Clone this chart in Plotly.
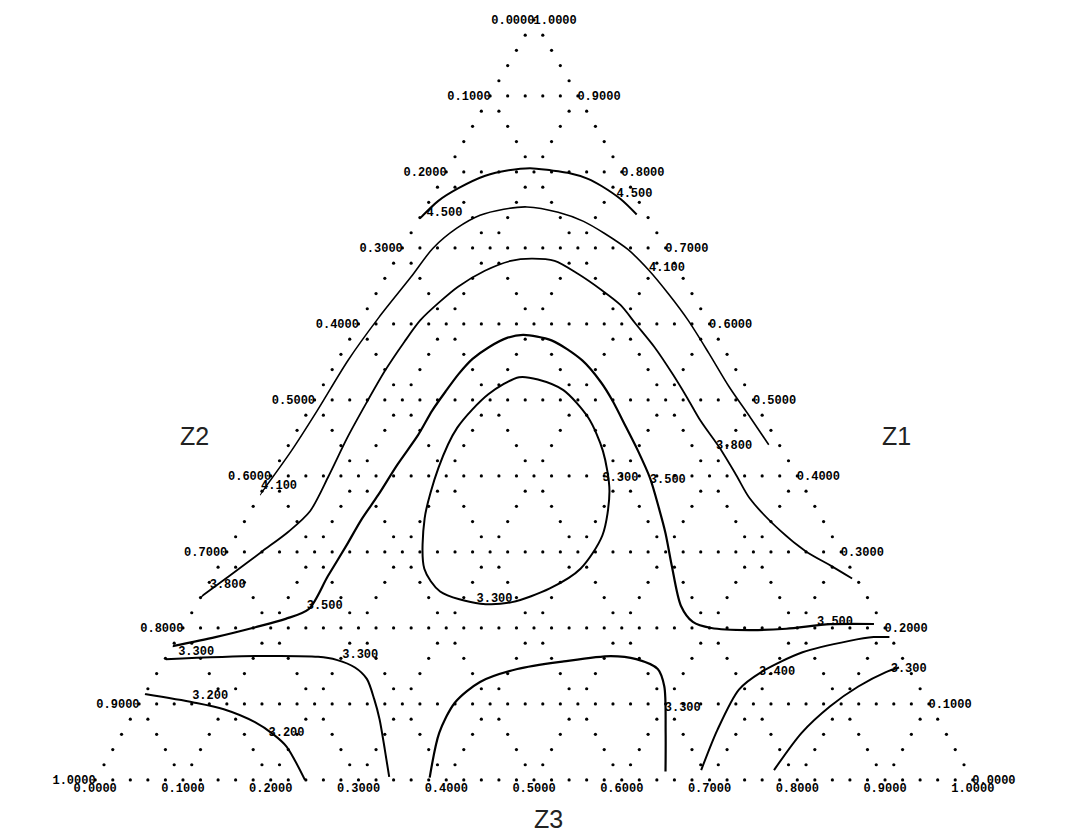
import plotly.graph_objects as go

# ---- contour 4.500 ----
c4500_z1 = [0.740, 0.762, 0.779, 0.795, 0.803, 0.805, 0.803, 0.799, 0.791, 0.782, 0.764, 0.744]
c4500_z2 = [0.259, 0.228, 0.196, 0.158, 0.128, 0.102, 0.080, 0.062, 0.043, 0.032, 0.019, 0.011]
c4500_z3 = [0.001, 0.010, 0.025, 0.047, 0.070, 0.093, 0.118, 0.139, 0.166, 0.187, 0.217, 0.245]

# ---- contour 4.100 ----
c4100_z1 = [0.375, 0.433, 0.486, 0.552, 0.609, 0.662, 0.699, 0.726, 0.743, 0.751, 0.754, 0.747,
            0.735, 0.719, 0.698, 0.672, 0.640, 0.605, 0.562, 0.517, 0.477, 0.441]
c4100_z2 = [0.625, 0.560, 0.504, 0.436, 0.372, 0.309, 0.265, 0.225, 0.190, 0.159, 0.131, 0.099,
            0.076, 0.060, 0.044, 0.034, 0.027, 0.022, 0.020, 0.019, 0.015, 0.012]
c4100_z3 = [0.000, 0.007, 0.010, 0.012, 0.019, 0.029, 0.035, 0.049, 0.067, 0.090, 0.115, 0.154,
            0.189, 0.221, 0.258, 0.295, 0.334, 0.373, 0.418, 0.464, 0.508, 0.547]

# ---- contour 3.800 ----
c3800_z1 = [0.241, 0.269, 0.301, 0.327, 0.354, 0.400, 0.450, 0.497, 0.539, 0.576, 0.605, 0.629,
            0.649, 0.670, 0.683, 0.686, 0.683, 0.666, 0.645, 0.625, 0.600, 0.570, 0.534, 0.503,
            0.473, 0.437, 0.401, 0.371, 0.327, 0.301, 0.282, 0.265]
c3800_z2 = [0.759, 0.712, 0.659, 0.616, 0.579, 0.534, 0.487, 0.443, 0.400, 0.360, 0.327, 0.293,
            0.262, 0.221, 0.185, 0.160, 0.135, 0.117, 0.101, 0.089, 0.084, 0.078, 0.075, 0.074,
            0.074, 0.070, 0.069, 0.069, 0.055, 0.040, 0.021, 0.005]
c3800_z3 = [0.000, 0.019, 0.040, 0.057, 0.068, 0.066, 0.062, 0.061, 0.061, 0.064, 0.068, 0.078,
            0.089, 0.109, 0.132, 0.154, 0.182, 0.217, 0.254, 0.286, 0.316, 0.353, 0.392, 0.423,
            0.454, 0.493, 0.530, 0.561, 0.617, 0.659, 0.697, 0.730]

# ---- contour 3.500 ----
c3500_z1 = [0.176, 0.188, 0.201, 0.212, 0.225, 0.268, 0.309, 0.342, 0.375, 0.415, 0.454, 0.486,
            0.513, 0.534, 0.554, 0.570, 0.582, 0.585, 0.579, 0.552, 0.523, 0.499, 0.464, 0.433,
            0.397, 0.358, 0.325, 0.282, 0.229, 0.208, 0.200, 0.197, 0.199, 0.205, 0.205]
c3500_z2 = [0.823, 0.769, 0.717, 0.677, 0.644, 0.601, 0.559, 0.526, 0.490, 0.449, 0.405, 0.373,
            0.344, 0.319, 0.293, 0.267, 0.239, 0.219, 0.191, 0.169, 0.162, 0.161, 0.163, 0.165,
            0.169, 0.179, 0.188, 0.202, 0.218, 0.215, 0.198, 0.156, 0.113, 0.060, 0.010]
c3500_z3 = [0.000, 0.043, 0.082, 0.111, 0.131, 0.131, 0.132, 0.132, 0.135, 0.137, 0.141, 0.141,
            0.144, 0.147, 0.153, 0.164, 0.179, 0.195, 0.231, 0.279, 0.315, 0.340, 0.373, 0.402,
            0.433, 0.464, 0.488, 0.516, 0.553, 0.577, 0.602, 0.646, 0.688, 0.735, 0.784]

# ---- contour 3.300 (closed loop) ----
c3300a_z1 = [0.530, 0.507, 0.464, 0.411, 0.344, 0.278, 0.248, 0.232, 0.234, 0.252, 0.278, 0.322,
             0.380, 0.433, 0.477, 0.513, 0.527, 0.530]
c3300a_z2 = [0.252, 0.298, 0.356, 0.404, 0.452, 0.486, 0.483, 0.445, 0.408, 0.356, 0.308, 0.261,
             0.224, 0.205, 0.200, 0.210, 0.232, 0.252]
c3300a_z3 = [0.218, 0.194, 0.181, 0.186, 0.203, 0.236, 0.269, 0.323, 0.358, 0.392, 0.414, 0.417,
             0.396, 0.362, 0.324, 0.277, 0.241, 0.218]

# ---- contour 3.300 (lower left) ----
c3300b_z1 = [0.159, 0.163, 0.162, 0.158, 0.148, 0.133, 0.106, 0.080, 0.040, 0.004]
c3300b_z2 = [0.840, 0.736, 0.665, 0.646, 0.630, 0.624, 0.629, 0.636, 0.650, 0.663]
c3300b_z3 = [0.001, 0.101, 0.173, 0.196, 0.222, 0.243, 0.265, 0.284, 0.310, 0.333]

# ---- contour 3.200 ----
c3200_z1 = [0.113, 0.102, 0.093, 0.076, 0.060, 0.044, 0.000]
c3200_z2 = [0.887, 0.837, 0.807, 0.780, 0.767, 0.760, 0.761]
c3200_z3 = [0.000, 0.061, 0.100, 0.144, 0.173, 0.196, 0.239]

# ---- contour 3.300 (bottom middle) ----
c3300c_z1 = [0.003, 0.062, 0.102, 0.129, 0.146, 0.156, 0.163, 0.159, 0.146, 0.123, 0.062, 0.011]
c3300c_z2 = [0.618, 0.577, 0.539, 0.497, 0.446, 0.388, 0.331, 0.304, 0.286, 0.290, 0.319, 0.345]
c3300c_z3 = [0.380, 0.361, 0.359, 0.374, 0.408, 0.456, 0.506, 0.537, 0.568, 0.587, 0.619, 0.645]

# ---- contour 3.400 (bottom right) ----
c3400_z1 = [0.013, 0.066, 0.119, 0.142, 0.168, 0.183, 0.188, 0.188]
c3400_z2 = [0.303, 0.258, 0.207, 0.170, 0.110, 0.049, 0.019, 0.001]
c3400_z3 = [0.684, 0.676, 0.674, 0.688, 0.722, 0.768, 0.793, 0.811]

# ---- contour 3.300 (bottom right corner) ----
c3300d_z1 = [0.013, 0.062, 0.097, 0.123, 0.142, 0.148]
c3300d_z2 = [0.220, 0.164, 0.114, 0.069, 0.028, 0.010]
c3300d_z3 = [0.767, 0.774, 0.789, 0.808, 0.830, 0.842]

# ---- contour labels ----
label_text = ["4.500", "4.500", "4.100", "4.100", "3.800", "3.800", "3.500", "3.500", "3.500",
              "3.300", "3.300", "3.300", "3.300", "3.200", "3.200", "3.300", "3.400", "3.300"]
label_z1 = [0.746, 0.771, 0.673, 0.387, 0.256, 0.440, 0.229, 0.395, 0.208,
            0.397, 0.238, 0.168, 0.164, 0.110, 0.062, 0.095, 0.142, 0.146]
label_z2 = [0.229, 0.000, 0.012, 0.597, 0.721, 0.052, 0.624, 0.150, 0.053,
            0.203, 0.426, 0.801, 0.616, 0.814, 0.751, 0.283, 0.152, 0.000]
label_z3 = [0.025, 0.229, 0.315, 0.016, 0.023, 0.508, 0.147, 0.455, 0.739,
            0.400, 0.336, 0.031, 0.220, 0.076, 0.187, 0.622, 0.706, 0.854]

# ---- axis ticks ----
tick_vals = [0.0, 0.1, 0.2, 0.3, 0.4, 0.5, 0.6, 0.7, 0.8, 0.9, 1.0]
tick_text = ["%.4f" % (1 - v) for v in tick_vals]
axis_titles = ["Z1", "Z2", "Z3"]

FONT_MONO = dict(family="Liberation Mono", size=12, color="black", weight="bold")
FONT_TITLE = dict(family="Liberation Sans", size=25, color="#222")

fig = go.Figure()

# dotted ternary grid (dots every 0.02 along the 0.1 grid lines)
ga, gb, gc = [], [], []
N = 50
for i in range(N + 1):
    for j in range(N + 1 - i):
        k = N - i - j
        if i % 5 == 0 or j % 5 == 0 or k % 5 == 0:
            ga.append(i / N)
            gb.append(j / N)
            gc.append(k / N)
fig.add_trace(go.Scatterternary(a=ga, b=gb, c=gc, mode="markers",
                                marker=dict(size=3.2, color="black"),
                                hoverinfo="skip", showlegend=False, cliponaxis=False))

curves = [
    (c4500_z1, c4500_z2, c4500_z3, 2.0),
    (c4100_z1, c4100_z2, c4100_z3, 1.6),
    (c3800_z1, c3800_z2, c3800_z3, 1.8),
    (c3500_z1, c3500_z2, c3500_z3, 2.2),
    (c3300a_z1, c3300a_z2, c3300a_z3, 2.0),
    (c3300b_z1, c3300b_z2, c3300b_z3, 2.0),
    (c3200_z1, c3200_z2, c3200_z3, 2.0),
    (c3300c_z1, c3300c_z2, c3300c_z3, 2.2),
    (c3400_z1, c3400_z2, c3400_z3, 2.0),
    (c3300d_z1, c3300d_z2, c3300d_z3, 2.0),
]
for z1, z2, z3, w in curves:
    fig.add_trace(go.Scatterternary(a=z1, b=z2, c=z3, mode="lines",
                                    line=dict(color="black", width=w, shape="spline", smoothing=0.8),
                                    hoverinfo="skip", showlegend=False))

fig.add_trace(go.Scatterternary(a=label_z1, b=label_z2, c=label_z3, mode="text",
                                text=label_text, textposition="middle center",
                                textfont=FONT_MONO, cliponaxis=False,
                                hoverinfo="skip", showlegend=False))

axis_common = dict(tickmode="array", tickvals=tick_vals, ticktext=tick_text,
                   showgrid=False, showline=False, ticks="", tickfont=FONT_MONO,
                   title=dict(text=""), min=0)

fig.update_layout(
    width=1065, height=837,
    margin=dict(l=0, r=0, t=0, b=0),
    paper_bgcolor="white",
    showlegend=False,
    ternary=dict(
        sum=1,
        bgcolor="white",
        domain=dict(x=[0.0339, 0.9539], y=[0.0777, 0.9857]),
        aaxis=axis_common,
        baxis=axis_common,
        caxis=axis_common,
    ),
    annotations=[
        dict(text=axis_titles[0], x=905 / 1065, y=1 - 428 / 837, xref="paper", yref="paper",
             showarrow=False, font=FONT_TITLE),
        dict(text=axis_titles[1], x=170 / 1065, y=1 - 428 / 837, xref="paper", yref="paper",
             showarrow=False, font=FONT_TITLE),
        dict(text=axis_titles[2], x=540 / 1065, y=1 - 827 / 837, xref="paper", yref="paper",
             showarrow=False, font=FONT_TITLE),
    ],
)

fig.write_html("out.html")
